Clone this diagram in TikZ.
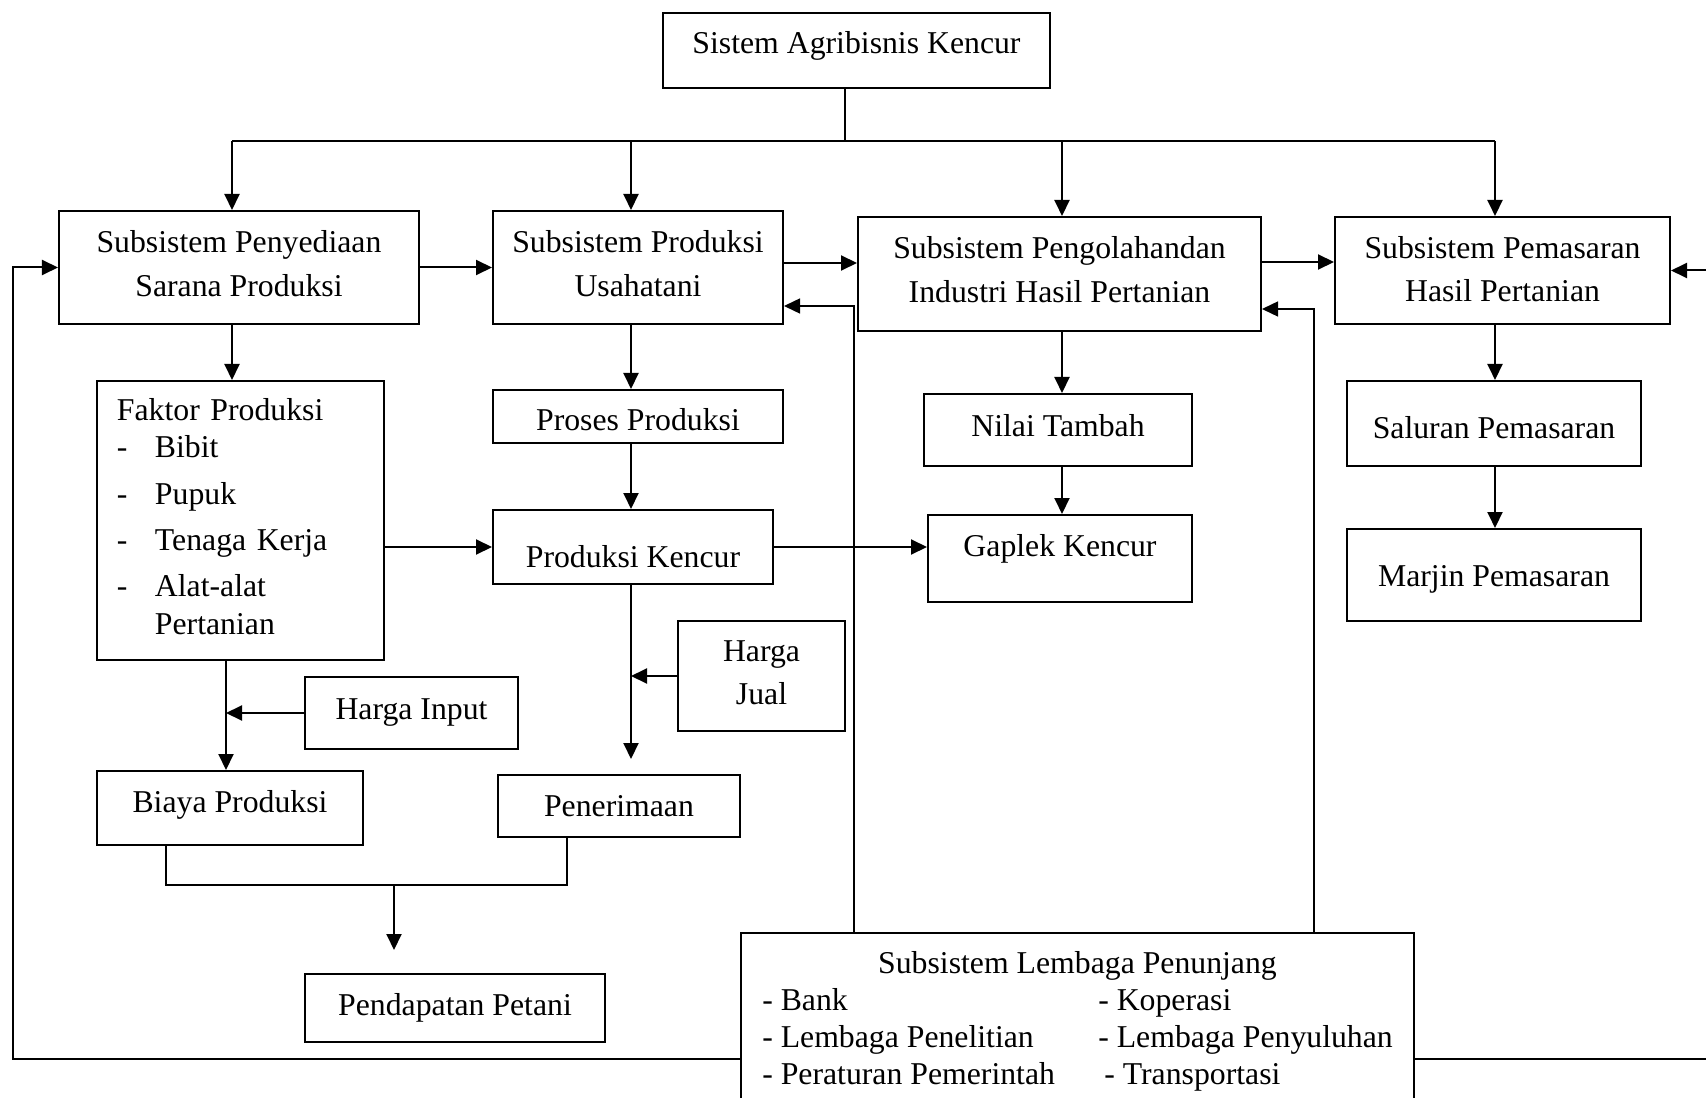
\documentclass[tikz,border=0pt]{standalone}
\usepackage{fontspec}
\setmainfont{Liberation Serif}
\usetikzlibrary{arrows.meta, calc}

\begin{document}
\begin{tikzpicture}[x=0.4pt, y=-0.4pt,
        kotak/.style={draw, line width=0.8pt, inner sep=0pt, align=center, font=\fontsize{12.7}{17.4}\selectfont},
        panah/.style={line width=0.8pt, -{Triangle[length=6.4pt, width=6pt]}},
        tipis/.style={line width=0.6pt},
        garis/.style={line width=0.8pt}]
        \useasboundingbox (0,0) rectangle (1706,1098);

        % kotak-kotak
        \node[kotak, minimum width=154.8pt, minimum height=30pt, text depth=6.2pt] (sistem) at (856.5,50.5) {Sistem Agribisnis Kencur};
        \node[kotak, minimum width=144pt, minimum height=45.2pt, text depth=3.4pt] (sarana) at (239,267.5) {Subsistem Penyediaan\\Sarana Produksi};
        \node[kotak, minimum width=116pt, minimum height=45.2pt, text depth=3.4pt] (usahatani) at (638,267.5) {Subsistem Produksi\\Usahatani};
        \node[kotak, minimum width=161.2pt, minimum height=45.6pt, text depth=3.8pt] (olah) at (1059.5,274) {Subsistem Pengolahandan\\Industri Hasil Pertanian};
        \node[kotak, minimum width=134pt, minimum height=42.8pt, text depth=1.4pt] (pasar) at (1502.5,270.5) {Subsistem Pemasaran\\Hasil Pertanian};

        \node[kotak, align=left, text width=98.8pt, inner xsep=8pt, minimum height=111.6pt, text height=5.7pt, font=\fontsize{12.7}{15}\selectfont] (faktor) at (240.5,520.5) {Faktor Produksi\\
            \makebox[15.2pt][l]{-}Bibit\\[3.5pt]
            \makebox[15.2pt][l]{-}Pupuk\\[3.7pt]
            \makebox[15.2pt][l]{-}Tenaga Kerja\\[3.4pt]
            \makebox[15.2pt][l]{-}Alat-alat\\
            \hspace*{15.2pt}Pertanian};
        \node[kotak, minimum width=85.2pt, minimum height=28.8pt] (hinput) at (411.5,713) {Harga Input};
        \node[kotak, minimum width=106.4pt, minimum height=29.6pt, text depth=5.4pt] (biaya) at (230,808) {Biaya Produksi};

        \node[kotak, minimum width=116pt, minimum height=21.2pt, text height=11.3pt] (proses) at (638,416.5) {Proses Produksi};
        \node[kotak, minimum width=112pt, minimum height=29.6pt, text height=16.5pt] (kencur) at (633,547) {Produksi Kencur};
        \node[kotak, minimum width=66.8pt, minimum height=44pt, text depth=2.7pt] (hjual) at (761.5,676) {Harga\\Jual};
        \node[kotak, minimum width=96.8pt, minimum height=24.8pt] (terima) at (619,806) {Penerimaan};
        \node[kotak, minimum width=120pt, minimum height=27.2pt] (pendapatan) at (455,1008) {Pendapatan Petani};

        \node[kotak, minimum width=107.2pt, minimum height=28.8pt, text depth=3.4pt] (nilai) at (1058,430) {Nilai Tambah};
        \node[kotak, minimum width=105.6pt, minimum height=34.8pt, text depth=10.6pt] (gaplek) at (1060,558.5) {Gaplek Kencur};

        \node[kotak, minimum width=117.6pt, minimum height=34pt, text height=12.1pt] (saluran) at (1494,423.5) {Saluran Pemasaran};
        \node[kotak, minimum width=117.6pt, minimum height=36.8pt, text height=12.1pt] (marjin) at (1494,575) {Marjin Pemasaran};

        \node[kotak, anchor=north, minimum width=269.2pt, inner ysep=5.6pt, font=\fontsize{12.7}{14.9}\selectfont] (lembaga) at (1077.5,932) {%
            \begin{tabular}{@{}p{134.4pt}@{}l@{}}
                \multicolumn{2}{c}{Subsistem Lembaga Penunjang}\\
                - Bank & - Koperasi\\
                - Lembaga Penelitian & - Lembaga Penyuluhan\\
                - Peraturan Pemerintah & \hspace{2.4pt}- Transportasi
            \end{tabular}};

        % titik bantu
        \coordinate (cab) at (845,141);
        \coordinate (c1) at (232,141);
        \coordinate (c2) at (631,141);
        \coordinate (c3) at (1062,141);
        \coordinate (c4) at (1495,141);
        \coordinate (k1) at (226,708);
        \coordinate (k2) at (631,675);
        \coordinate (j1) at (166,885);
        \coordinate (j2) at (567,885);
        \coordinate (j3) at (394,885);
        \coordinate (u1) at (854,306);
        \coordinate (u2) at (1314,309);
        \coordinate (kiri) at (13,1059);
        \coordinate (kanan) at (1730,1059);

        % cabang dari sistem
        \draw[tipis] (sistem.south -| cab) -- (cab);
        \draw[garis] (c1) -- (c4);
        \draw[panah] (c1) -- (c1 |- sarana.north);
        \draw[panah] (c2) -- (c2 |- usahatani.north);
        \draw[panah] (c3) -- (c3 |- olah.north);
        \draw[panah] (c4) -- (c4 |- pasar.north);

        % antar subsistem
        \draw[panah] (sarana.east) -- (usahatani.west |- sarana.east);
        \draw[panah] (usahatani.east |- 0,263) -- (olah.west |- 0,263);
        \draw[panah] (olah.east |- 0,262) -- (pasar.west |- 0,262);

        % kolom sarana
        \draw[panah] (c1 |- sarana.south) -- (c1 |- faktor.north);
        \draw[panah] (faktor.east |- kencur.west) -- (kencur.west);
        \draw[panah] (faktor.south -| k1) -- (k1 |- biaya.north);
        \draw[panah] (hinput.west) -- (hinput.west -| k1);

        % kolom usahatani
        \draw[panah] (c2 |- usahatani.south) -- (c2 |- proses.north);
        \draw[panah] (c2 |- proses.south) -- (c2 |- kencur.north);
        \draw[panah] (kencur.east) -- (gaplek.west |- kencur.east);
        \draw[panah, shorten >=6pt] (kencur.south -| k2) -- (k2 |- terima.north);
        \draw[panah] (hjual.west) -- (hjual.west -| k2);

        % pendapatan
        \draw[garis] (biaya.south -| j1) -- (j1) -- (j2) -- (j2 |- terima.south);
        \draw[panah, shorten >=9.2pt] (j3) -- (j3 |- pendapatan.north);

        % kolom pengolahan dan pemasaran
        \draw[panah] (c3 |- olah.south) -- (c3 |- nilai.north);
        \draw[panah] (c3 |- nilai.south) -- (c3 |- gaplek.north);
        \draw[panah] (c4 |- pasar.south) -- (c4 |- saluran.north);
        \draw[panah] (c4 |- saluran.south) -- (c4 |- marjin.north);

        % lembaga penunjang
        \draw[panah, line width=0.6pt] (lembaga.north -| u1) -- (u1) -- (usahatani.east |- u1);
        \draw[panah, line width=0.6pt] (lembaga.north -| u2) -- (u2) -- (olah.east |- u2);
        \draw[panah] (lembaga.west |- kiri) -- (kiri) |- (sarana.west);
        \draw[panah] (lembaga.east |- kanan) -- (kanan) |- (pasar.east);
    \end{tikzpicture}
\end{document}
